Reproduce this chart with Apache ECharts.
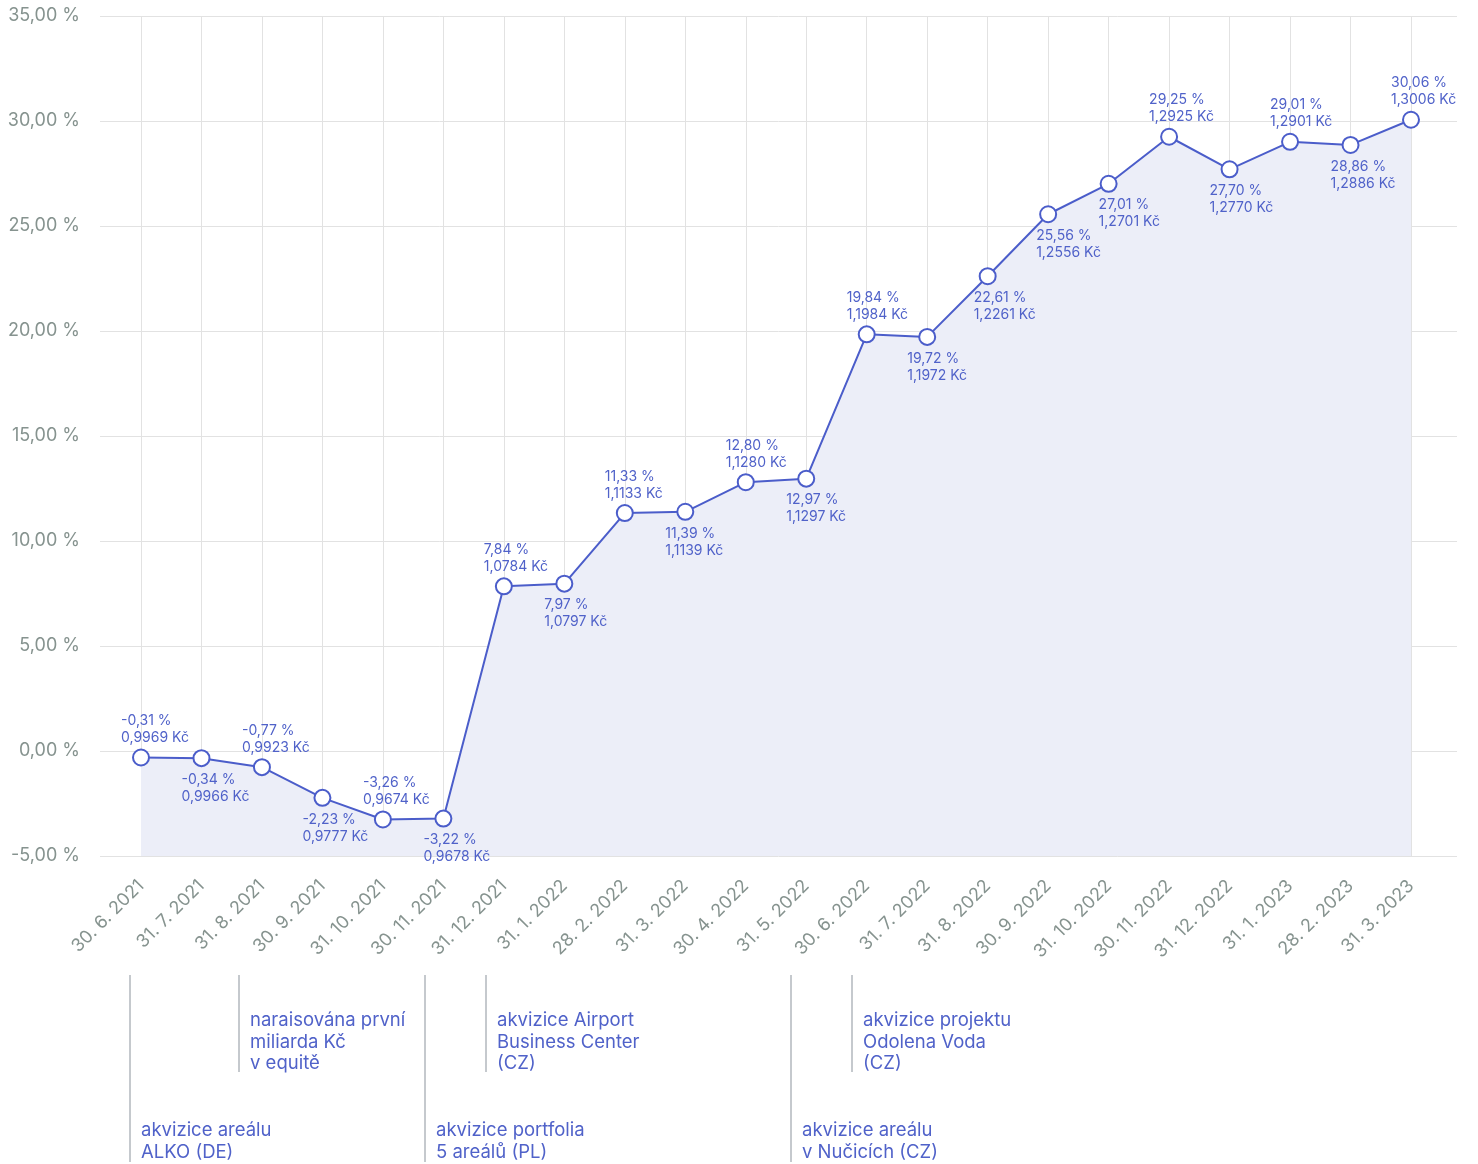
<!DOCTYPE html>
<html>
<head>
<meta charset="utf-8">
<script src="https://cdn.jsdelivr.net/npm/echarts@6/dist/echarts.min.js"></script>
<style>
html,body{margin:0;padding:0;background:#fff;}
#c{width:1478px;height:1164px;}
</style>
</head>
<body>
<div id="c"></div>
<script>
// ---- data ----
const categories = ['30. 6. 2021','31. 7. 2021','31. 8. 2021','30. 9. 2021','31. 10. 2021','30. 11. 2021','31. 12. 2021','31. 1. 2022','28. 2. 2022','31. 3. 2022','30. 4. 2022','31. 5. 2022','30. 6. 2022','31. 7. 2022','31. 8. 2022','30. 9. 2022','31. 10. 2022','30. 11. 2022','31. 12. 2022','31. 1. 2023','28. 2. 2023','31. 3. 2023'];
const returnPct = [-0.31,-0.34,-0.77,-2.23,-3.26,-3.22,7.84,7.97,11.33,11.39,12.80,12.97,19.84,19.72,22.61,25.56,27.01,29.25,27.70,29.01,28.86,30.06];
const unitValue = ['0,9969','0,9966','0,9923','0,9777','0,9674','0,9678','1,0784','1,0797','1,1133','1,1139','1,1280','1,1297','1,1984','1,1972','1,2261','1,2556','1,2701','1,2925','1,2770','1,2901','1,2886','1,3006'];
const yTicks = {min: -5, max: 35, interval: 5};
const events = [
  {text: 'akvizice areálu\nALKO (DE)', row: 'low'},
  {text: 'naraisována první\nmiliarda Kč\nv equitě', row: 'high'},
  {text: 'akvizice portfolia\n5 areálů (PL)', row: 'low'},
  {text: 'akvizice Airport\nBusiness Center\n(CZ)', row: 'high'},
  {text: 'akvizice areálu\nv Nučicích (CZ)', row: 'low'},
  {text: 'akvizice projektu\nOdolena Voda\n(CZ)', row: 'high'}
];

// ---- styling / layout config ----
const labelSide = ['top','bottom','top','bottom','top','bottom','top','bottom','top','bottom','top','bottom','top','bottom','bottom','bottom','bottom','top','bottom','top','bottom','top'];
const labelShiftX = {14: 6, 15: 8, 16: 10};
const eventX = [130, 239, 425, 486, 791, 852];

const FONT = 'Inter, "Noto Sans", sans-serif';
const BLUE = '#4b5dca';
const LABEL_BLUE = '#5062c9';
const GRAY = '#86938f';

const fmt = v => v.toFixed(2).replace('.', ',');

const seriesData = returnPct.map((v, i) => ({
  value: v,
  label: {
    position: labelSide[i],
    distance: labelSide[i] === 'top' ? 2 : 4,
    offset: [-20 + (labelShiftX[i] || 0), 0],
    formatter: fmt(v) + ' %\n' + unitValue[i] + ' Kč'
  }
}));

const chart = echarts.init(document.getElementById('c'), null, {renderer: 'canvas'});

const graphics = [];
events.forEach((e, i) => {
  const x = eventX[i];
  const high = e.row === 'high';
  graphics.push({
    type: 'line',
    shape: {x1: x, y1: 975, x2: x, y2: high ? 1072 : 1162},
    style: {stroke: '#8b939c', lineWidth: 1}
  });
  graphics.push({
    type: 'text',
    left: x + 11,
    top: high ? 1010 : 1120,
    style: {text: e.text, font: '18.5px ' + FONT, fill: LABEL_BLUE, lineHeight: 21.5}
  });
});

chart.setOption({
  animation: false,
  backgroundColor: '#fff',
  grid: [
    {left: 100, right: 21, top: 16, bottom: 308},
    {left: 141, right: 67, top: 16, bottom: 308}
  ],
  xAxis: [
    {gridIndex: 0, type: 'value', min: 0, max: 1, show: false},
    {
      gridIndex: 1, type: 'category', data: categories, boundaryGap: false,
      axisLine: {show: false}, axisTick: {show: false},
      splitLine: {show: true, lineStyle: {color: '#e2e2e2', width: 1}},
      axisLabel: {rotate: 45, margin: 27, color: GRAY, fontSize: 18, fontFamily: FONT, interval: 0}
    }
  ],
  yAxis: [
    {
      gridIndex: 0, type: 'value', min: yTicks.min, max: yTicks.max, interval: yTicks.interval,
      axisLine: {show: false}, axisTick: {show: false},
      splitLine: {lineStyle: {color: '#e2e2e2', width: 1}},
      axisLabel: {margin: 20, color: GRAY, fontSize: 18, fontFamily: FONT, formatter: v => fmt(v) + ' %'}
    },
    {
      gridIndex: 1, type: 'value', min: yTicks.min, max: yTicks.max, interval: yTicks.interval,
      show: false, splitLine: {show: false}
    }
  ],
  series: [{
    type: 'line',
    xAxisIndex: 1, yAxisIndex: 1,
    data: seriesData,
    symbol: 'circle', symbolSize: 16,
    itemStyle: {color: '#fff', borderColor: BLUE, borderWidth: 2},
    lineStyle: {color: BLUE, width: 2},
    areaStyle: {color: '#eceef8', opacity: 1, origin: 'start'},
    label: {
      show: true, align: 'left',
      color: LABEL_BLUE, fontSize: 14, fontFamily: FONT, lineHeight: 17
    },
    z: 3
  }],
  graphic: graphics
});
</script>
</body>
</html>
